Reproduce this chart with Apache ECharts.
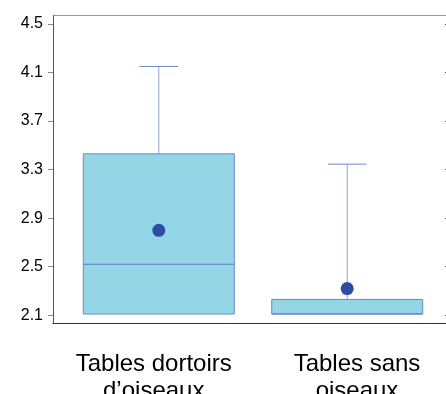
<!DOCTYPE html>
<html><head><meta charset="utf-8">
<script src="https://cdn.jsdelivr.net/npm/echarts@6/dist/echarts.min.js"></script>
<style>html,body{margin:0;padding:0;background:#fff}#c{width:446px;height:394px}</style>
</head><body><div id="c"></div>
<script>
// Data
const categories = ['Tables dortoirs\nd\u2019oiseaux', 'Tables sans\noiseaux'];
const whiskerLow = [2.11, 2.11];
const q1 = [2.11, 2.11];
const median = [2.52, 2.11];
const q3 = [3.43, 2.23];
const whiskerHigh = [4.15, 3.345];
const means = [2.80, 2.32];
const yTicks = [2.1, 2.5, 2.9, 3.3, 3.7, 4.1, 4.5];

const boxData = categories.map((c, i) => [i + 1, whiskerLow[i], q1[i], median[i], q3[i], whiskerHigh[i]]);
const meanData = categories.map((c, i) => [i + 1, means[i]]);

// label anchor positions on the x scale (labels in the original sit slightly off the box centres)
const labelPos = [0.973, 2.052];

const BOX_W = 0.8015, CAP_W = 0.205;
const fill = '#94D6E6', border = '#6A87CF', whisk = '#8EA4DA';

const chart = echarts.init(document.getElementById('c'), null, {renderer: 'canvas'});
chart.setOption({
  animation: false,
  grid: {left: 53, right: -1, top: 15, bottom: 71, containLabel: false, outerBoundsMode: 'none'},
  xAxis: [{
    type: 'value', min: 0.4384, max: 2.5297, position: 'bottom',
    splitLine: {show: false},
    axisLine: {show: true, lineStyle: {color: '#333', width: 1}},
    axisTick: {show: false},
    axisLabel: {
      customValues: labelPos,
      formatter: v => categories[Math.round(v) - 1] || '',
      fontFamily: 'Liberation Sans', fontSize: 24, lineHeight: 27, color: '#000',
      margin: 28, hideOverlap: false
    }
  }, {
    type: 'value', min: 0.4384, max: 2.5297, position: 'top',
    splitLine: {show: false},
    axisLine: {show: true, lineStyle: {color: '#999', width: 1}},
    axisTick: {show: false}, axisLabel: {show: false}
  }],
  yAxis: [{
    type: 'value', min: 2.036, max: 4.574, position: 'left',
    splitLine: {show: false},
    axisLine: {show: true, lineStyle: {color: '#555', width: 1}},
    axisTick: {show: true, inside: false, length: 5, customValues: yTicks, lineStyle: {color: '#888'}},
    axisLabel: {
      customValues: yTicks, formatter: v => v.toFixed(1),
      fontFamily: 'Liberation Sans', fontSize: 16, color: '#000', margin: 10
    }
  }, {
    type: 'value', min: 2.036, max: 4.574, position: 'right',
    splitLine: {show: false},
    axisLine: {show: true, lineStyle: {color: '#555'}},
    axisTick: {show: true, inside: true, length: 2, customValues: yTicks, lineStyle: {color: '#555'}},
    axisLabel: {show: false}
  }],
  series: [{
    type: 'custom',
    xAxisIndex: 0, yAxisIndex: 0,
    data: boxData,
    renderItem: function (params, api) {
      const x = api.value(0);
      const pLow = api.coord([x, api.value(1)]);
      const pQ1 = api.coord([x, api.value(2)]);
      const pMed = api.coord([x, api.value(3)]);
      const pQ3 = api.coord([x, api.value(4)]);
      const pHigh = api.coord([x, api.value(5)]);
      const bw = api.size([BOX_W, 0])[0];
      const cw = api.size([CAP_W, 0])[0];
      const cx = pQ1[0];
      return {
        type: 'group',
        children: [
          {type: 'line', shape: {x1: cx, y1: pQ3[1], x2: cx, y2: pHigh[1]}, style: {stroke: whisk, lineWidth: 1}},
          {type: 'line', shape: {x1: cx - cw / 2, y1: pHigh[1], x2: cx + cw / 2, y2: pHigh[1]}, style: {stroke: border, lineWidth: 1}},
          {type: 'line', shape: {x1: cx, y1: pQ1[1], x2: cx, y2: pLow[1]}, style: {stroke: whisk, lineWidth: 1}},
          {type: 'rect', shape: {x: cx - bw / 2, y: pQ3[1], width: bw, height: pQ1[1] - pQ3[1]}, style: {fill: fill, stroke: border, lineWidth: 1}},
          {type: 'line', shape: {x1: cx - bw / 2, y1: pMed[1], x2: cx + bw / 2, y2: pMed[1]}, style: {stroke: '#5C7DC9', lineWidth: 1}}
        ]
      };
    }
  }, {
    type: 'scatter',
    xAxisIndex: 0, yAxisIndex: 0,
    data: meanData,
    symbol: 'circle', symbolSize: 13,
    itemStyle: {color: '#2D4DA4', opacity: 1}
  }]
});
</script>
</body></html>
